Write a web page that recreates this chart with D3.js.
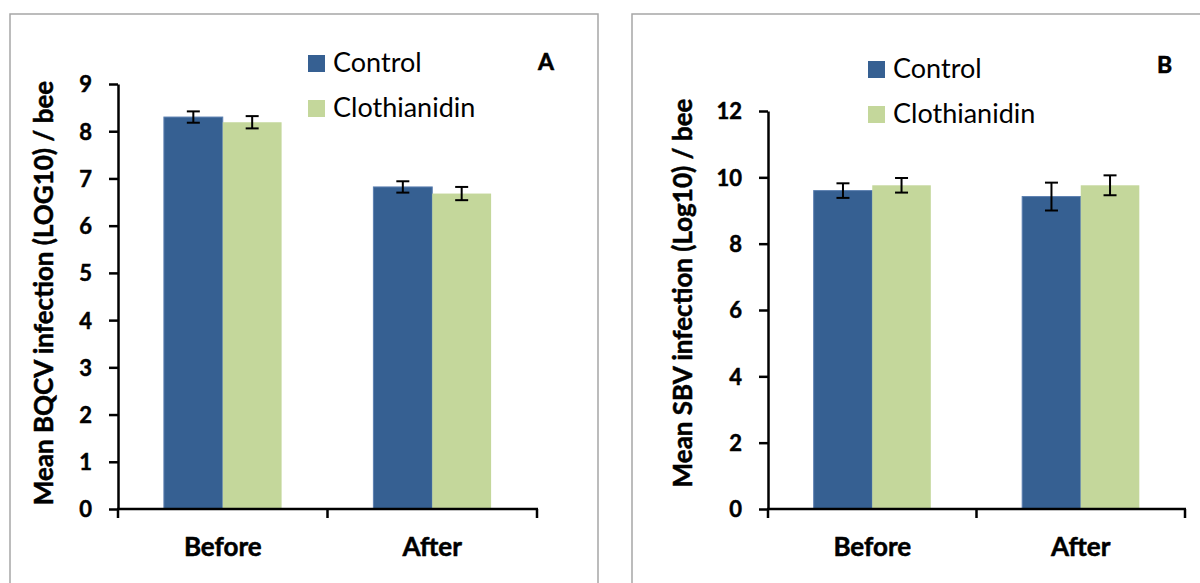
<!DOCTYPE html>
<meta charset="utf-8">
<style>
body{margin:0;background:#fff;}
text{font-family:Lato,"Open Sans",sans-serif;}
.tick text{font-size:22px;font-weight:bold;fill:#000;stroke:#000;stroke-width:0.5px;}
.ylab{font-size:26px;font-weight:bold;stroke:#000;stroke-width:0.5px;}
.leg{font-size:27px;}
.tag{font-size:23px;font-weight:bold;stroke:#000;stroke-width:0.6px;}
.cat{font-size:26px;font-weight:bold;stroke:#000;stroke-width:0.5px;}
</style>
<body>
<script src="https://cdn.jsdelivr.net/npm/d3@7"></script>
<script>
var periods = ["Before", "After"];
var series = ["Control", "Clothianidin"];
var color = {Control:"#366092", Clothianidin:"#c4d79b"};

// panel A: BQCV
var bqcvMean = {Control:[8.3, 6.82], Clothianidin:[8.19, 6.68]};
var bqcvErr  = {Control:[0.12, 0.12], Clothianidin:[0.13, 0.14]};
var bqcvTicks = [0,1,2,3,4,5,6,7,8,9];

// panel B: SBV
var sbvMean = {Control:[9.6, 9.42], Clothianidin:[9.76, 9.76]};
var sbvErr  = {Control:[0.22, 0.42], Clothianidin:[0.22, 0.3]};
var sbvTicks = [0,2,4,6,8,10,12];

var svg = d3.select("body").append("svg").attr("width",1200).attr("height",583);

var panels = [
 {frame:[10,14,588,600], x:[118,537], y:[509,84], max:9, ticks:bqcvTicks, mean:bqcvMean, err:bqcvErr,
  ylab:"Mean BQCV infection (LOG10) / bee", ylabX:53, leg:[308,55], tag:"A", tagXY:[538,70]},
 {frame:[632,14,600,600], x:[768,1185], y:[509,111], max:12, ticks:sbvTicks, mean:sbvMean, err:sbvErr,
  ylab:"Mean SBV infection (Log10) / bee", ylabX:692, leg:[868,61], tag:"B", tagXY:[1157,73]}
];

panels.forEach(function(p){
	svg.append("rect").attr("x",p.frame[0]).attr("y",p.frame[1])
		.attr("width",p.frame[2]).attr("height",p.frame[3])
		.attr("fill","none").attr("stroke","#a6a6a6").attr("stroke-width",1.5);

	var x0 = d3.scaleBand().domain(periods).range(p.x);
	var x1 = d3.scaleBand().domain(series).range([0,x0.bandwidth()]).paddingOuter(0.78);
	var y = d3.scaleLinear().domain([0,p.max]).range(p.y);

	var g = svg.append("g");

	periods.forEach(function(per,i){
		series.forEach(function(s){
			var v = p.mean[s][i], e = p.err[s][i];
			var bx = x0(per)+x1(s), bw = x1.bandwidth();
			g.append("rect").attr("x",bx).attr("y",y(v))
				.attr("width",bw).attr("height",y(0)-y(v))
				.attr("fill",color[s]).attr("stroke",s=="Control"?"#5b7fb0":"none").attr("stroke-width",1);
			var cx = bx+bw/2;
			g.append("line").attr("x1",cx).attr("x2",cx).attr("y1",y(v+e)).attr("y2",y(v-e))
				.attr("stroke","#000").attr("stroke-width",2);
			[v+e, v-e].forEach(function(t){
				g.append("line").attr("x1",cx-6.5).attr("x2",cx+6.5).attr("y1",y(t)).attr("y2",y(t))
					.attr("stroke","#000").attr("stroke-width",2);
			});
		});
	});

	var ya = svg.append("g").attr("transform","translate("+p.x[0]+",0)")
		.call(d3.axisLeft(y).tickValues(p.ticks).tickSize(9).tickSizeOuter(0).tickPadding(17));
	ya.selectAll("path,line").attr("stroke","#000").attr("stroke-width",2.5);
	ya.selectAll(".tick text").attr("dy","0.36em");

	// x axis: line with ticks at category boundaries
	var bounds = periods.map(function(c){return x0(c);}).concat([p.x[1]]);
	var xa = svg.append("g");
	xa.append("line").attr("x1",p.x[0]-1).attr("x2",p.x[1]+1).attr("y1",y(0)).attr("y2",y(0))
		.attr("stroke","#000").attr("stroke-width",2.5);
	bounds.forEach(function(b){
		xa.append("line").attr("x1",b).attr("x2",b).attr("y1",y(0)).attr("y2",y(0)+9)
			.attr("stroke","#000").attr("stroke-width",2.5);
	});
	periods.forEach(function(c){
		xa.append("text").attr("class","cat").attr("x",x0(c)+x0.bandwidth()/2).attr("y",y(0)+47)
			.attr("text-anchor","middle").text(c);
	});

	svg.append("text").attr("class","ylab")
		.attr("transform","translate("+p.ylabX+",293) rotate(-90)")
		.attr("text-anchor","middle").text(p.ylab);

	series.forEach(function(s,i){
		var ly = p.leg[1]+i*45;
		svg.append("rect").attr("x",p.leg[0]).attr("y",ly).attr("width",17).attr("height",17).attr("fill",color[s]);
		svg.append("text").attr("class","leg").attr("x",p.leg[0]+25).attr("y",ly+17).text(s);
	});

	svg.append("text").attr("class","tag").attr("x",p.tagXY[0]).attr("y",p.tagXY[1]).text(p.tag);
});
</script>
</body>
